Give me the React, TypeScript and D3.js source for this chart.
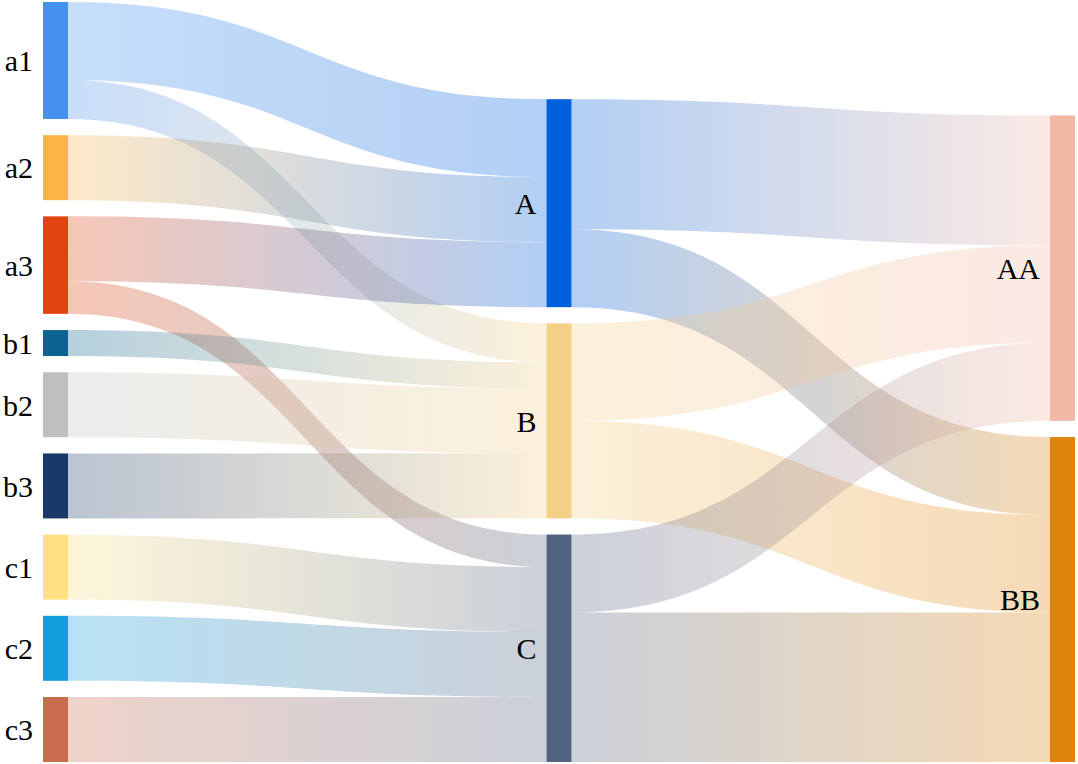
import * as d3 from 'd3';

// node names and colours, in column order
const NODE_NAMES = ['a1', 'a2', 'a3', 'b1', 'b2', 'b3', 'c1', 'c2', 'c3', 'A', 'B', 'C', 'AA', 'BB'];
const NODE_COLORS = [
  '#4791EE', '#FDB446', '#E1440F', '#0A6391', '#BFBFBF', '#1B3968',
  '#FFE184', '#129EDF', '#C96C4E', '#005FDC', '#F4D086', '#526380',
  '#F1B8A6', '#E0830A'
];

// flows
const LINK_SOURCES = ['a1', 'a1', 'a2', 'a3', 'a3', 'b1', 'b2', 'b3', 'c1', 'c2', 'c3', 'A', 'A', 'B', 'B', 'C', 'C'];
const LINK_TARGETS = ['A', 'B', 'A', 'A', 'C', 'B', 'B', 'B', 'C', 'C', 'C', 'AA', 'BB', 'AA', 'BB', 'AA', 'BB'];
const LINK_VALUES = [6, 3, 5, 5, 2.5, 2, 5, 5, 5, 5, 5, 10, 6, 7.5, 7.5, 6, 11.5];

const WIDTH = 1078;
const HEIGHT = 764;
const TOP = 2;
const BOTTOM = 762;
const LEFT = 43;
const RIGHT = 1075;
const NODE_WIDTH = 25;
const NODE_PADDING = 16.2;

interface SNode {
  name: string;
  color: string;
  depth: number;
  value: number;
  x0: number;
  x1: number;
  y0: number;
  y1: number;
  sourceLinks: SLink[];
  targetLinks: SLink[];
}

interface SLink {
  index: number;
  source: SNode;
  target: SNode;
  value: number;
  width: number;
  sy0: number;
  ty0: number;
}

function buildLayout() {
  const nodes: SNode[] = NODE_NAMES.map((name, i) => ({
    name,
    color: NODE_COLORS[i],
    depth: 0,
    value: 0,
    x0: 0, x1: 0, y0: 0, y1: 0,
    sourceLinks: [],
    targetLinks: []
  }));
  const byName = new Map(nodes.map(n => [n.name, n]));
  const links: SLink[] = LINK_VALUES.map((value, i) => {
    const l: SLink = {
      index: i,
      source: byName.get(LINK_SOURCES[i])!,
      target: byName.get(LINK_TARGETS[i])!,
      value,
      width: 0,
      sy0: 0,
      ty0: 0
    };
    l.source.sourceLinks.push(l);
    l.target.targetLinks.push(l);
    return l;
  });

  // depths
  let changed = true;
  while (changed) {
    changed = false;
    links.forEach(l => {
      if (l.target.depth < l.source.depth + 1) {
        l.target.depth = l.source.depth + 1;
        changed = true;
      }
    });
  }
  nodes.forEach(n => {
    n.value = Math.max(d3.sum(n.sourceLinks, l => l.value), d3.sum(n.targetLinks, l => l.value));
  });

  const columns = d3.groups(nodes, n => n.depth).sort((a, b) => a[0] - b[0]).map(g => g[1]);
  const xScale = d3.scaleLinear()
    .domain([0, columns.length - 1])
    .range([LEFT, RIGHT - NODE_WIDTH]);

  const ky = d3.min(columns, col => (BOTTOM - TOP - (col.length - 1) * NODE_PADDING) / d3.sum(col, n => n.value))!;
  const vScale = d3.scaleLinear().domain([0, 1]).range([0, ky]);

  // columns are stacked from the bottom edge
  columns.forEach(col => {
    const total = d3.sum(col, n => vScale(n.value)) + (col.length - 1) * NODE_PADDING;
    let y = BOTTOM - total;
    col.forEach(n => {
      n.x0 = xScale(n.depth);
      n.x1 = n.x0 + NODE_WIDTH;
      n.y0 = y;
      n.y1 = y + vScale(n.value);
      y = n.y1 + NODE_PADDING;
    });
  });

  links.forEach(l => { l.width = vScale(l.value); });
  nodes.forEach(n => {
    let y = n.y0;
    [...n.sourceLinks].sort((a, b) => a.target.y0 - b.target.y0).forEach(l => {
      l.sy0 = y;
      y += l.width;
    });
    y = n.y0;
    [...n.targetLinks].sort((a, b) => a.source.y0 - b.source.y0).forEach(l => {
      l.ty0 = y;
      y += l.width;
    });
  });

  return { nodes, links };
}

function linkPath(l: SLink) {
  const sx = l.source.x1;
  const tx = l.target.x0;
  const mx = sx + (tx - sx) * 0.5;
  const p = d3.path();
  p.moveTo(sx, l.sy0);
  p.bezierCurveTo(mx, l.sy0, mx, l.ty0, tx, l.ty0);
  p.lineTo(tx, l.ty0 + l.width);
  p.bezierCurveTo(mx, l.ty0 + l.width, mx, l.sy0 + l.width, sx, l.sy0 + l.width);
  p.closePath();
  return p.toString();
}

export default function App() {
  const { nodes, links } = buildLayout();

  return (
    <svg
      width={WIDTH}
      height={HEIGHT}
      style={{ position: 'fixed', left: 0, top: 0, background: '#fff' }}
    >
      <defs>
        {links.map(l => (
          <linearGradient
            key={l.index}
            id={`grad-${l.index}`}
            gradientUnits="userSpaceOnUse"
            x1={l.source.x1}
            x2={l.target.x0}
            y1={0}
            y2={0}
          >
            <stop offset="0%" stopColor={l.source.color} />
            <stop offset="100%" stopColor={l.target.color} />
          </linearGradient>
        ))}
      </defs>
      <g>
        {links.map(l => (
          <path key={l.index} d={linkPath(l)} fill={`url(#grad-${l.index})`} fillOpacity={0.3} />
        ))}
      </g>
      <g>
        {nodes.map(n => (
          <rect key={n.name} x={n.x0} y={n.y0} width={n.x1 - n.x0} height={n.y1 - n.y0} fill={n.color} />
        ))}
      </g>
      <g style={{ fontFamily: "'Liberation Serif', 'Times New Roman', serif", fontSize: 30 }} fill="#000">
        {nodes.map(n => (
          <text key={n.name} x={n.x0 - 10} y={(n.y0 + n.y1) / 2} dy="0.36em" textAnchor="end">
            {n.name}
          </text>
        ))}
      </g>
    </svg>
  );
}
